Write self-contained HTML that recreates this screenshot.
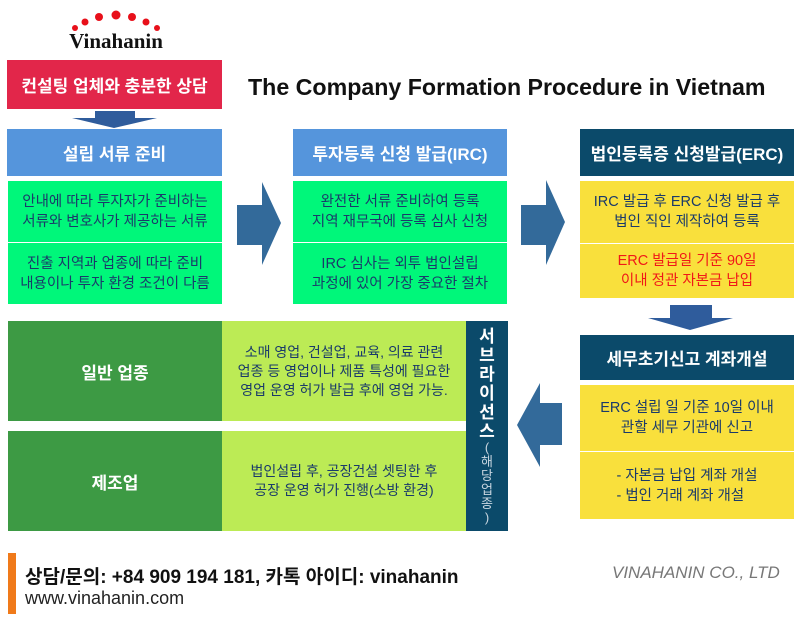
<!DOCTYPE html>
<html><head><meta charset="utf-8"><style>
*{margin:0;padding:0;box-sizing:border-box}
body{width:800px;height:629px;background:#fff;position:relative;overflow:hidden;font-family:"Liberation Sans","Noto Sans CJK KR",sans-serif}
.a{position:absolute}
.c{display:flex;align-items:center;justify-content:center;text-align:center}
.h{color:#fff;font-weight:bold;font-size:17px}
.t{font-size:14.5px;line-height:20px;color:#1a3a6a}
.g{background:#00f77a}
.y{background:#f9e03c}
</style></head><body>
<svg class="a" style="left:0;top:0" width="800" height="629">
<g fill="#e8101a"><circle cx="75" cy="28" r="3"/><circle cx="85" cy="22" r="3.5"/><circle cx="99" cy="17" r="4"/><circle cx="116" cy="15" r="4.5"/><circle cx="132" cy="17" r="4"/><circle cx="146" cy="22" r="3.5"/><circle cx="157" cy="28" r="3"/></g>
<text x="116" y="48" text-anchor="middle" font-family="Liberation Serif" font-weight="bold" font-size="21" fill="#111">Vinahanin</text>
<polygon points="95,111 135,111 135,118 157,118 114,128 72,118 95,118" fill="#2f5c9c"/>
<polygon points="237,205 262,205 262,182 281,223 262,265 262,245 237,245" fill="#336a9a"/>
<polygon points="521,205 546,205 546,180 565,222 546,265 546,245 521,245" fill="#336a9a"/>
<polygon points="670,305 712,305 712,318 733,318 690,330 648,318 670,318" fill="#2f5c9c"/>
<polygon points="562,403 540,403 540,383 517,425 540,467 540,445 562,445" fill="#336a9a"/>
</svg>
<div class="a c h" style="left:7px;top:60px;width:215px;height:49px;background:#e2264a;font-size:17px">컨설팅 업체와 충분한 상담</div>
<div class="a" style="left:248px;top:74px;font-size:23.2px;font-weight:bold;color:#111">The Company Formation Procedure in Vietnam</div>

<div class="a c h" style="left:7px;top:129px;width:215px;height:47px;background:#5595dc">설립 서류 준비</div>
<div class="a c t g" style="left:8px;top:181px;width:214px;height:61px">안내에 따라 투자자가 준비하는<br>서류와 변호사가 제공하는 서류</div>
<div class="a c t g" style="left:8px;top:243px;width:214px;height:61px">진출 지역과 업종에 따라 준비<br>내용이나 투자 환경 조건이 다름</div>

<div class="a c h" style="left:293px;top:129px;width:214px;height:47px;background:#5595dc">투자등록 신청 발급(IRC)</div>
<div class="a c t g" style="left:293px;top:181px;width:214px;height:61px">완전한 서류 준비하여 등록<br>지역 재무국에 등록 심사 신청</div>
<div class="a c t g" style="left:293px;top:243px;width:214px;height:61px">IRC 심사는 외투 법인설립<br>과정에 있어 가장 중요한 절차</div>

<div class="a c h" style="left:580px;top:129px;width:214px;height:47px;background:#0b4a6a">법인등록증 신청발급(ERC)</div>
<div class="a c t y" style="left:580px;top:181px;width:214px;height:62px">IRC 발급 후 ERC 신청 발급 후<br>법인 직인 제작하여 등록</div>
<div class="a c t y" style="left:580px;top:244px;width:214px;height:54px;color:#f01818">ERC 발급일 기준 90일<br>이내 정관 자본금 납입</div>

<div class="a c h" style="left:580px;top:335px;width:214px;height:45px;background:#0b4a6a">세무초기신고 계좌개설</div>
<div class="a c t y" style="left:580px;top:385px;width:214px;height:66px">ERC 설립 일 기준 10일 이내<br>관할 세무 기관에 신고</div>
<div class="a c t y" style="left:580px;top:452px;width:214px;height:67px;text-align:left"><div>- 자본금 납입 계좌 개설<br>- 법인 거래 계좌 개설</div></div>

<div class="a c h" style="left:8px;top:321px;width:214px;height:100px;background:#3d9a44">일반 업종</div>
<div class="a c t" style="left:222px;top:321px;width:244px;height:100px;background:#bceb55;font-size:14px;line-height:19px">소매 영업, 건설업, 교육, 의료 관련<br>업종 등 영업이나 제품 특성에 필요한<br>영업 운영 허가 발급 후에 영업 가능.</div>
<div class="a c h" style="left:8px;top:431px;width:214px;height:100px;background:#3d9a44">제조업</div>
<div class="a c t" style="left:222px;top:431px;width:244px;height:100px;background:#bceb55;font-size:14px;line-height:19px">법인설립 후, 공장건설 셋팅한 후<br>공장 운영 허가 진행(소방 환경)</div>
<div class="a" style="left:466px;top:321px;width:42px;height:210px;background:#0b4a6a;color:#fff;text-align:center;font-weight:bold;font-size:17px;line-height:19px;padding-top:6px">서<br>브<br>라<br>이<br>선<br>스<div style="font-weight:normal;font-size:13px;line-height:14px;color:#c8d6e0">(<br>해<br>당<br>업<br>종<br>)</div></div>

<div class="a" style="left:8px;top:553px;width:8px;height:61px;background:#f07a1a"></div>
<div class="a" style="left:25px;top:562px;font-size:19px;font-weight:bold;color:#111">상담/문의: +84 909 194 181, 카톡 아이디: vinahanin</div>
<div class="a" style="left:25px;top:588px;font-size:18px;color:#222">www.vinahanin.com</div>
<div class="a" style="left:612px;top:563px;font-size:17px;font-style:italic;color:#777">VINAHANIN CO., LTD</div>
</body></html>
